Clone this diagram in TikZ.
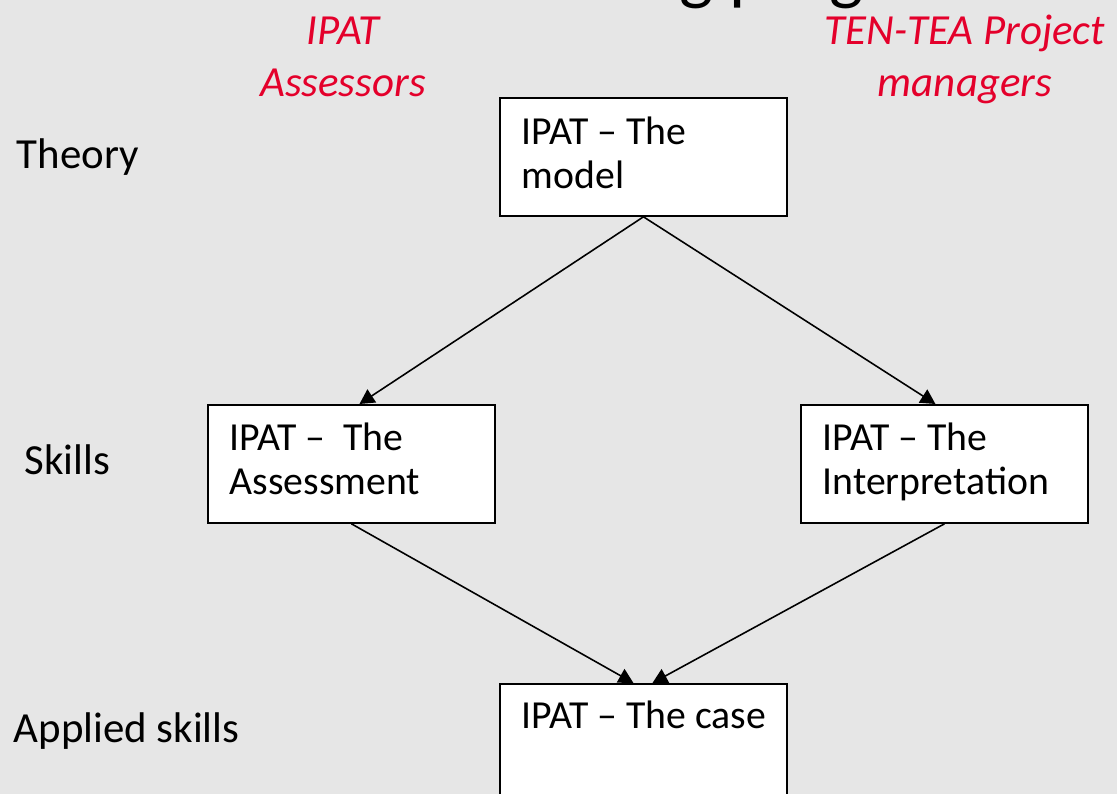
\documentclass[tikz,border=0pt]{standalone}
\usepackage{fontspec}
\setmainfont{Carlito}
\usetikzlibrary{arrows.meta}
\definecolor{slidegray}{RGB}{230,230,230}
\definecolor{rolered}{RGB}{228,0,43}
\begin{document}
\begin{tikzpicture}[x=0.01cm,y=-0.01cm,
  stage/.style={draw,line width=0.5pt,fill=white,minimum width=2.87cm,
    minimum height=1.18cm,inner sep=0pt,anchor=north west},
  stagetext/.style={anchor=base west,inner sep=0pt,align=left,
    font=\fontsize{11.3}{12.5}\selectfont},
  level/.style={anchor=base west,inner sep=0pt,font=\fontsize{12.2}{14}\selectfont},
  role/.style={anchor=base,inner sep=0pt,align=center,text=rolered,
    font=\fontsize{12.2}{14.8}\selectfont\itshape},
  flow/.style={line width=0.45pt,-{Triangle[length=4.2pt,width=4.4pt]}}]
  \fill[slidegray] (0,0) rectangle (1117,794);
  \useasboundingbox (0,0) rectangle (1117,794);
  \clip (0,0) rectangle (1117,794);

  % title of the slide, cut off at the top
  \node [anchor=base west,inner sep=0pt,font=\fontsize{20.5}{24}\selectfont] (title) at (8,-3) {Structure of the training programme};

  % who takes part
  \node [role] (assessors) at (343,97) {IPAT\\Assessors};
  \node [role] (managers) at (965,97) {TEN-TEA Project\\managers};

  % levels
  \node [level] (theory) at (16,169) {Theory};
  \node [level] (skills) at (24,475) {Skills};
  \node [level] (applied) at (13,743) {Applied skills};

  % boxes
  \node [stage] (model) at (499,97) {};
  \node [stage] (assess) at (207,404) {};
  \node [stage] (interp) at (800,404) {};
  \node [stage] (case) at (499,683) {};

  \node [stagetext] (modeltext) at ([xshift=0.22cm,yshift=-0.91cm]model.north west) {IPAT -- The\\model};
  \node [stagetext] (assesstext) at ([xshift=0.22cm,yshift=-0.90cm]assess.north west) {IPAT --\ \ The\\Assessment};
  \node [stagetext] (interptext) at ([xshift=0.22cm,yshift=-0.90cm]interp.north west) {IPAT -- The\\Interpretation};
  \node [stagetext] (casetext) at ([xshift=0.22cm,yshift=-0.456cm]case.north west) {IPAT -- The case};

  \draw [flow] (model.south) -- ([xshift=0.08cm]assess.north);
  \draw [flow] (model.south) -- ([xshift=-0.09cm]interp.north);
  \draw [flow] (assess.south) -- ([xshift=-0.10cm]case.north);
  \draw [flow] (interp.south) -- ([xshift=0.09cm]case.north);
\end{tikzpicture}
\end{document}
